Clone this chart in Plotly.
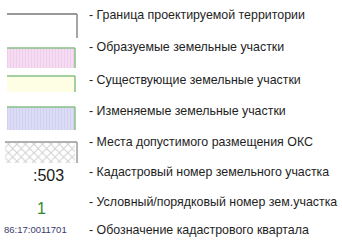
import plotly.graph_objects as go

labels = [
    "- Граница проектируемой территории",
    "- Образуемые земельные участки",
    "- Существующие земельные участки",
    "- Изменяемые земельные участки",
    "- Места допустимого размещения ОКС",
    "- Кадастровый номер земельного участка",
    "- Условный/порядковый номер зем.участка",
    "- Обозначение кадастрового квартала",
]
box_names = ["Образуемые", "Существующие", "Изменяемые", "ОКС"]
box_fill = ["#f6dcf2", "#fdfee4", "#dcdcf6", "#ffffff"]
box_pattern = ["|", "", "|", "x"]
box_pattern_fg = ["#e6bfe2", "#fdfee4", "#c4c4ea", "#a0a0a0"]
box_edge = ["#86c086", "#86c086", "#86c086", "#9a9a9a"]
sample_texts = [":503", "1", "86:17:0011701"]
sample_colors = ["#1a1a1a", "#2f8a2f", "#3a3a6e"]
sample_sizes = [16, 16, 9.5]

W, H = 342, 251
label_y = [15, 47, 80, 111, 142, 172, 202, 230]
box_top = [48, 76, 107, 142]
box_bot = [68, 92, 130, 163]
box_x0, box_x1 = 7, 75
sample_x = [48, 41, 35]
sample_y = [175, 208, 229]

fig = go.Figure()
for i in range(4):
    is_x = box_pattern[i] == "x"
    fig.add_trace(go.Bar(
        orientation="h",
        y=[(box_top[i] + box_bot[i]) / 2],
        x=[box_x1 - box_x0 + (2 if is_x else 0)],
        base=[box_x0 - (2 if is_x else 0)],
        width=[box_bot[i] - box_top[i]],
        name=box_names[i],
        marker=dict(
            color=box_fill[i],
            line=dict(width=0),
            pattern=dict(shape=box_pattern[i], fgcolor=box_pattern_fg[i],
                         bgcolor=box_fill[i], size=6 if is_x else 3,
                         solidity=0.3 if is_x else 0.35),
        ),
        showlegend=False, hoverinfo="skip",
    ))

shapes = []
shapes.append(dict(type="line", x0=7, x1=77, y0=14, y1=14, line=dict(color="#333333", width=1)))
shapes.append(dict(type="line", x0=77, x1=77, y0=14, y1=38, line=dict(color="#888888", width=1.5)))
for i in range(4):
    xs = box_x0 - (2 if box_pattern[i] == "x" else 0)
    xe = box_x1 + (2 if box_pattern[i] == "x" else 0)
    shapes.append(dict(type="line", x0=xs, x1=xe, y0=box_top[i], y1=box_top[i],
                       line=dict(color=box_edge[i], width=1.5)))
    shapes.append(dict(type="line", x0=xe, x1=xe, y0=box_top[i], y1=box_bot[i],
                       line=dict(color=box_edge[i], width=1.5)))

annotations = []
for t, y in zip(labels, label_y):
    annotations.append(dict(x=87, y=y, text=t, showarrow=False, xanchor="left", yanchor="middle",
                            font=dict(family="Liberation Sans, Arial", size=12.4, color="#1e1e1e")))
for t, x, y, c, s in zip(sample_texts, sample_x, sample_y, sample_colors, sample_sizes):
    annotations.append(dict(x=x, y=y, text=t, showarrow=False, xanchor="center", yanchor="middle",
                            font=dict(family="Liberation Sans, Arial", size=s, color=c)))

fig.update_layout(
    width=W, height=H, margin=dict(l=0, r=0, t=0, b=0),
    paper_bgcolor="white", plot_bgcolor="white",
    xaxis=dict(range=[0, W], visible=False, fixedrange=True),
    yaxis=dict(range=[H, 0], visible=False, fixedrange=True),
    shapes=shapes, annotations=annotations, bargap=0,
)
fig.write_html("out.html", config={"displayModeBar": False},
               post_script="document.body.style.margin='0';document.body.style.overflow='hidden';")
